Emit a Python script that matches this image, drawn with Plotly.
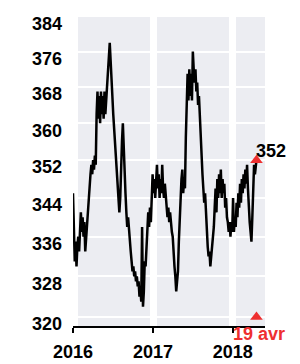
import math
import pandas as pd
import plotly.graph_objects as go

# Series sampled every 4 days from 2016-01-01, last point 2018-04-19
values = [
    345, 334, 331, 335, 330, 334, 336, 333, 338, 341,
    337, 340, 336, 339, 333, 336, 338, 342, 345, 346,
    349, 351, 349, 352, 350, 353, 351, 362, 367, 361,
    366, 360, 367, 362, 366, 361, 367, 362, 365, 368,
    372, 376, 378, 374, 368, 366, 362, 359, 356, 354,
    352, 348, 345, 341, 344, 352, 356, 360, 353, 349,
    345, 341, 338, 340, 337, 335, 333, 331, 329, 330,
    328, 329, 327, 328, 326, 327, 324, 326, 323, 338,
    322, 325, 331, 330, 334, 338, 341, 338, 342, 339,
    343, 349, 345, 348, 344, 347, 351, 346, 349, 344,
    348, 345, 351, 346, 344, 347, 345, 342, 340, 342,
    339, 341, 338, 337, 336, 332, 330, 328, 325, 327,
    329, 335, 339, 346, 348, 350, 345, 348, 346, 357,
    364, 371, 365, 372, 366, 371, 365, 376, 372, 369,
    372, 367, 369, 364, 366, 361, 357, 352, 349, 346,
    343, 345, 340, 338, 334, 332, 333, 330, 332, 334,
    336, 338, 342, 346, 341, 348, 344, 349, 345, 350,
    344, 348, 345, 347, 342, 344, 340, 339, 337, 339,
    336, 339, 337, 344, 337, 340, 338, 343, 340, 345,
    342, 347, 343, 348, 345, 349, 346, 350, 347, 351,
    346, 341, 339, 337, 335, 340, 346, 351, 349, 351,
]
last_date = "2018-04-19"
last_value = 352
floor_value = 320
last_label = "352"
date_label = "19 avr"

year_ticks = ["2016-01-01", "2017-01-01", "2018-01-01"]
year_labels = ["2016", "2017", "2018"]
y_ticks = [320, 328, 336, 344, 352, 360, 368, 376, 384]

dates = list(pd.date_range("2016-01-01", periods=len(values), freq="4D"))
dates.append(pd.Timestamp(last_date))
series = values + [last_value]

FONT = "Liberation Sans, Arial, sans-serif"
BG = "#ecedf2"
RED = "#ee3030"
FS = 18

fig = go.Figure()
fig.add_trace(go.Scatter(
    x=dates, y=series, mode="lines",
    line=dict(color="black", width=2.5),
    hoverinfo="skip", showlegend=False,
))
fig.add_trace(go.Scatter(
    x=[last_date, last_date], y=[last_value, floor_value], mode="markers",
    marker=dict(symbol="triangle-up", size=11, color=RED),
    cliponaxis=False, showlegend=False, hoverinfo="skip",
))

fig.add_shape(type="rect", xref="x", yref="paper",
              x0="2016-01-24", x1="2018-05-28", y0=0, y1=1,
              fillcolor=BG, line=dict(width=0), layer="below")

fig.add_annotation(x=last_date, y=math.log10(last_value), text=last_label,
                   showarrow=False, xanchor="left", yanchor="middle",
                   xshift=-2, yshift=9,
                   font=dict(family=FONT, size=FS, color="black", weight="bold"))
fig.add_annotation(x=last_date, y=0, yref="paper", text=date_label,
                   showarrow=False, xanchor="center", yanchor="middle",
                   xshift=3, yshift=-8,
                   font=dict(family=FONT, size=FS, color=RED, weight="bold"))

fig.update_layout(
    width=300, height=364,
    margin=dict(l=73, r=35, t=17, b=38, autoexpand=False),
    paper_bgcolor="white", plot_bgcolor="rgba(0,0,0,0)",
    font=dict(family=FONT, size=FS, color="black", weight="bold"),
)
fig.update_xaxes(
    type="date", range=["2016-01-01", "2018-05-28"], automargin=False,
    tickvals=year_ticks, ticktext=year_labels,
    showgrid=True, gridcolor="white", gridwidth=7,
    showline=True, linecolor="black", linewidth=1.5,
    ticks="outside", ticklen=5, tickcolor="black", tickwidth=1.5,
    ticklabelstandoff=4,
    tickfont=dict(family=FONT, size=FS, color="black", weight="bold"),
    zeroline=False,
)
fig.update_yaxes(
    type="log", range=[math.log10(320) - 9 / 3788.8, math.log10(384)],
    automargin=False,
    tickvals=y_ticks, ticktext=[str(v) for v in y_ticks],
    showgrid=True, gridcolor="white", gridwidth=1.5,
    showline=False, ticks="", ticklabelstandoff=10, ticklabelshift=7,
    tickfont=dict(family=FONT, size=FS, color="black", weight="bold"),
    zeroline=False,
)

fig.write_html("out.html", config={"displayModeBar": False},
               post_script="document.body.style.margin='0';")
